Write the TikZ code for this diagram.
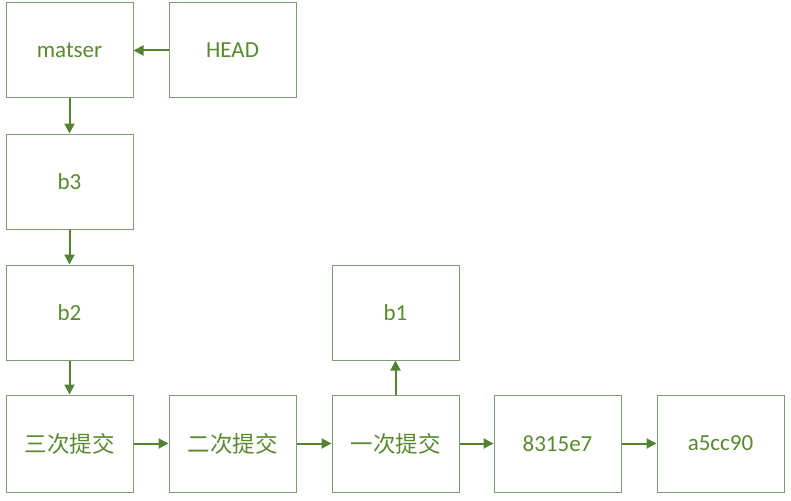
\documentclass[tikz,border=0pt]{standalone}
\usepackage{fontspec}
\setmainfont{Carlito}
\newfontfamily\cjk{Noto Sans CJK SC}
\usetikzlibrary{arrows.meta}
\definecolor{boxline}{HTML}{7F9B70}
\definecolor{txt}{HTML}{5A8A30}
\definecolor{arr}{HTML}{548235}
\begin{document}
\begin{tikzpicture}[x=1pt,y=-1pt,
  box/.style={draw=boxline,line width=1pt,fill=white,minimum width=127pt,minimum height=95pt,inner sep=0pt,text=txt,font=\fontsize{23}{27}\selectfont},
  cbox/.style={box,minimum height=97pt,font=\fontsize{22.5}{27}\selectfont\cjk},
  conn/.style={draw=arr,line width=2pt,-{Triangle[length=10pt,width=10pt]}}]
\useasboundingbox (0,0) rectangle (791,500);
\node[box] (matser) at (69.5,50.5) {matser};
\node[box] (head) at (232.5,50.5) {HEAD};
\node[box] (b3) at (69.5,181.5) {b3};
\node[box] (b2) at (69.5,312.5) {b2};
\node[box] (b1) at (395.5,312.5) {b1};
\node[cbox] (c3) at (69.5,443.5) {三次提交};
\node[cbox] (c2) at (232.5,443.5) {二次提交};
\node[cbox] (c1) at (395.5,443.5) {一次提交};
\node[box,minimum height=97pt] (h1) at (557.5,443.5) {8315e7};
\node[box,minimum height=97pt] (h2) at (720.5,443.5) {a5cc90};
\draw[conn] (head) -- (matser);
\draw[conn] (matser) -- (b3);
\draw[conn] (b3) -- (b2);
\draw[conn] (b2) -- (c3);
\draw[conn] (c3) -- (c2);
\draw[conn] (c2) -- (c1);
\draw[conn] (c1) -- (b1);
\draw[conn] (c1) -- (h1);
\draw[conn] (h1) -- (h2);
\end{tikzpicture}
\end{document}
